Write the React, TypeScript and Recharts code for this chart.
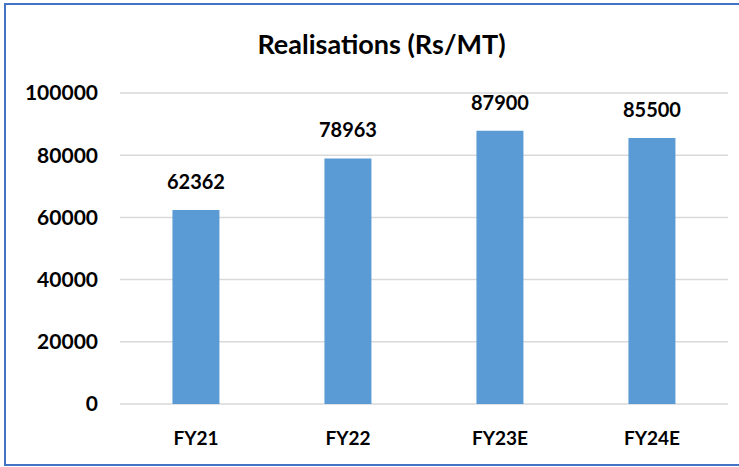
import { BarChart, Bar, XAxis, YAxis, CartesianGrid, LabelList } from 'recharts';

const categories = ['FY21', 'FY22', 'FY23E', 'FY24E'];
const realisations = [62362, 78963, 87900, 85500];
const yTicks = [0, 20000, 40000, 60000, 80000, 100000];

const chartData = categories.map((name, i) => ({ name, value: realisations[i] }));

const FONT = 'Lato, "Open Sans", sans-serif';

export default function App() {
  return (
    <div style={{ position: 'fixed', top: 0, left: 0, width: 739, height: 467, background: '#fff' }}>
      <div
        style={{
          position: 'absolute',
          left: 4,
          top: 3,
          width: 740,
          height: 463,
          borderLeft: '2px solid #4472C4',
          borderTop: '2px solid #4472C4',
          borderBottom: '2px solid #4472C4',
          boxSizing: 'border-box',
        }}
      />
      <div
        style={{
          position: 'absolute',
          top: 28,
          left: 12,
          width: 739,
          textAlign: 'center',
          fontFamily: FONT,
          fontWeight: 700,
          fontSize: 27,
          lineHeight: 1.2,
          color: '#000',
        }}
      >
        Realisations (Rs/MT)
      </div>
      <div style={{ position: 'absolute', top: 0, left: 0 }}>
        <BarChart
          width={739}
          height={467}
          data={chartData}
          margin={{ top: 93, right: 11, left: 10, bottom: 33 }}
          barCategoryGap="34.5%"
        >
          <CartesianGrid vertical={false} stroke="#D9D9D9" strokeWidth={1.5} />
          <XAxis
            dataKey="name"
            height={30}
            axisLine={false}
            tickLine={false}
            tick={{ fill: '#000', fontSize: 19, fontWeight: 700, fontFamily: FONT }}
            tickMargin={22}
          />
          <YAxis
            width={110}
            domain={[0, 100000]}
            ticks={yTicks}
            axisLine={false}
            tickLine={false}
            tick={{ fill: '#000', fontSize: 21, fontWeight: 700, fontFamily: FONT }}
            tickMargin={16}
          />
          <Bar dataKey="value" fill="#5B9BD5" isAnimationActive={false}>
            <LabelList
              dataKey="value"
              position="top"
              offset={21}
              style={{ fill: '#000', fontSize: 20, fontWeight: 700, fontFamily: FONT }}
            />
          </Bar>
        </BarChart>
      </div>
    </div>
  );
}
